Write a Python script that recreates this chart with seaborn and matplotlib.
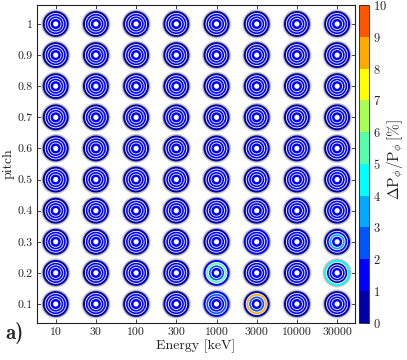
import numpy as np
import pandas as pd
import matplotlib
matplotlib.use("Agg")
import matplotlib.pyplot as plt
import matplotlib.colors as mcolors
import matplotlib.colorbar as mcolorbar
import seaborn as sns

sns.set_theme(style="ticks")
plt.rcParams['font.family'] = ['cmr10', 'DejaVu Serif']
plt.rcParams['mathtext.fontset'] = 'cm'
plt.rcParams['axes.formatter.use_mathtext'] = True
plt.rcParams['axes.unicode_minus'] = False

energies = ["10", "30", "100", "300", "1000", "3000", "10000", "30000"]
pitches = [1.0, 0.9, 0.8, 0.7, 0.6, 0.5, 0.4, 0.3, 0.2, 0.1]
pitch_labels = ["1", "0.9", "0.8", "0.7", "0.6", "0.5", "0.4", "0.3", "0.2", "0.1"]

# rows: pitch 1.0 .. 0.1 ; columns: energies 10 .. 30000
ring_outer = [
    [0.5, 0.5, 0.5, 0.5, 0.5, 0.5, 0.5, 0.5],
    [0.5, 0.5, 0.5, 0.5, 0.5, 0.5, 0.5, 0.5],
    [0.5, 0.5, 0.5, 0.5, 0.5, 0.5, 0.5, 0.5],
    [0.5, 0.5, 0.5, 0.5, 0.5, 0.5, 0.5, 0.5],
    [0.5, 0.5, 0.5, 0.5, 0.5, 0.5, 0.5, 0.5],
    [0.5, 0.5, 0.5, 0.5, 0.5, 0.5, 0.5, 0.5],
    [0.5, 0.5, 0.5, 0.5, 0.5, 0.5, 0.5, 0.5],
    [0.5, 0.5, 0.5, 0.5, 0.5, 1.5, 0.5, 0.5],
    [0.5, 0.5, 0.5, 0.5, 1.5, 0.5, 0.5, 4.5],
    [0.5, 0.5, 0.5, 0.5, 1.5, 0.5, 0.5, 0.5],
]
ring_second = [
    [1.5, 1.5, 1.5, 1.5, 1.5, 1.5, 1.5, 1.5],
    [1.5, 1.5, 1.5, 1.5, 1.5, 1.5, 1.5, 1.5],
    [1.5, 1.5, 1.5, 1.5, 1.5, 1.5, 1.5, 1.5],
    [1.5, 1.5, 1.5, 1.5, 1.5, 1.5, 1.5, 1.5],
    [1.5, 1.5, 1.5, 1.5, 1.5, 1.5, 1.5, 1.5],
    [1.5, 1.5, 1.5, 1.5, 1.5, 1.5, 1.5, 1.5],
    [1.5, 1.5, 1.5, 1.5, 1.5, 1.5, 1.5, 1.5],
    [1.5, 1.5, 1.5, 1.5, 1.5, 1.5, 1.5, 1.5],
    [1.5, 1.5, 1.5, 1.5, 5.5, 1.5, 1.5, 0.5],
    [1.5, 1.5, 1.5, 1.5, 2.5, 8.5, 1.5, 1.5],
]
ring_third = [
    [1.5, 1.5, 1.5, 1.5, 1.5, 1.5, 1.5, 1.5],
    [1.5, 1.5, 1.5, 1.5, 1.5, 1.5, 1.5, 1.5],
    [1.5, 1.5, 1.5, 1.5, 1.5, 1.5, 1.5, 1.5],
    [1.5, 1.5, 1.5, 1.5, 1.5, 1.5, 1.5, 1.5],
    [1.5, 1.5, 1.5, 1.5, 1.5, 1.5, 1.5, 1.5],
    [1.5, 1.5, 1.5, 1.5, 1.5, 1.5, 1.5, 1.5],
    [1.5, 1.5, 1.5, 1.5, 1.5, 1.5, 1.5, 1.5],
    [1.5, 1.5, 1.5, 1.5, 1.5, 1.5, 1.5, 3.5],
    [1.5, 1.5, 1.5, 1.5, 2.5, 1.5, 1.5, 1.5],
    [1.5, 1.5, 1.5, 1.5, 1.5, 2.5, 1.5, 1.5],
]
ring_inner = [
    [1.5, 1.5, 1.5, 1.5, 1.5, 1.5, 1.5, 1.5],
    [1.5, 1.5, 1.5, 1.5, 1.5, 1.5, 1.5, 1.5],
    [1.5, 1.5, 1.5, 1.5, 1.5, 1.5, 1.5, 1.5],
    [1.5, 1.5, 1.5, 1.5, 1.5, 1.5, 1.5, 1.5],
    [1.5, 1.5, 1.5, 1.5, 1.5, 1.5, 1.5, 1.5],
    [1.5, 1.5, 1.5, 1.5, 1.5, 1.5, 1.5, 1.5],
    [1.5, 1.5, 1.5, 1.5, 1.5, 1.5, 1.5, 1.5],
    [1.5, 1.5, 1.5, 1.5, 1.5, 1.5, 1.5, 1.5],
    [1.5, 1.5, 1.5, 1.5, 1.5, 1.5, 1.5, 1.5],
    [1.5, 1.5, 1.5, 1.5, 1.5, 1.5, 1.5, 1.5],
]
cbar_ticks = [0, 1, 2, 3, 4, 5, 6, 7, 8, 9, 10]

jet10 = [(0, 0, 0.6667), (0, 0, 1), (0, 0.3333, 1), (0, 0.6667, 1), (0, 1, 1),
         (0.3333, 1, 0.6667), (0.6667, 1, 0.3333), (1, 1, 0), (1, 0.6667, 0), (1, 0.3333, 0)]
cmap = mcolors.ListedColormap(jet10)
norm = mcolors.Normalize(vmin=0, vmax=10)

rows = []
for i, p in enumerate(pitches):
    for j, e in enumerate(energies):
        rows.append(dict(xi=j, pitch=p, r0=ring_outer[i][j], r1=ring_second[i][j],
                         r2=ring_third[i][j], r3=ring_inner[i][j]))
df = pd.DataFrame(rows)

dpi = 100
fig = plt.figure(figsize=(4.07, 3.60), dpi=dpi)
W, H = 407, 360
ax_l, ax_r, ax_t, ax_b = 37, 355, 5, 323
ax = fig.add_axes([ax_l / W, 1 - ax_b / H, (ax_r - ax_l) / W, (ax_b - ax_t) / H])


def s_of(r_px):
    d_pt = 2 * r_px * 72.0 / dpi
    return d_pt ** 2

# gray shell
sns.scatterplot(data=df, x="xi", y="pitch", s=s_of(14.7), color="#d8d8d8", edgecolor="none",
                linewidth=0, legend=False, ax=ax, zorder=2)
sns.scatterplot(data=df, x="xi", y="pitch", s=s_of(13.7), color="#b0b0b0", edgecolor="none",
                linewidth=0, legend=False, ax=ax, zorder=2)
layers = [("r0", 12.9, "none", 0), ("r1", 10.5, "white", 0.6),
          ("r2", 8.0, "white", 0.6), ("r3", 5.5, "white", 0.6)]
for k, (col, r, ec, lw) in enumerate(layers):
    sns.scatterplot(data=df, x="xi", y="pitch", hue=col, palette=cmap, hue_norm=norm,
                    s=s_of(r), edgecolor=ec, linewidth=lw, legend=False, ax=ax, zorder=3 + k)
sns.scatterplot(data=df, x="xi", y="pitch", s=s_of(2.6), color="white", edgecolor="none",
                linewidth=0, legend=False, ax=ax, zorder=8)

ax.set_xlim(-0.465, 7.445)
ax.set_ylim(0.039, 1.061)
ax.set_xticks(range(len(energies)))
ax.set_xticklabels(energies)
ax.set_yticks(pitches)
ax.set_yticklabels(pitch_labels)
ax.tick_params(direction="in", top=True, right=True, length=3, width=0.6, labelsize=8.5,
               pad=3, colors="#222222", labelcolor="#222222")
for sp in ax.spines.values():
    sp.set_linewidth(0.8)
    sp.set_color("#222222")
ax.set_xlabel("Energy [keV]", fontsize=10, labelpad=2, color="#222222")
ax.set_ylabel("pitch", fontsize=10, labelpad=2, color="#222222")

cax = fig.add_axes([359 / W, 1 - 322.7 / H, 10 / W, (322.7 - 5) / H])
cmap_b = mcolors.ListedColormap(jet10)
bnorm = mcolors.BoundaryNorm(cbar_ticks, cmap_b.N)
cb = mcolorbar.ColorbarBase(cax, cmap=cmap_b, norm=bnorm, ticks=cbar_ticks, orientation="vertical")
cb.outline.set_linewidth(0.6)
cax.tick_params(direction="in", length=3, width=0.5, labelsize=9, pad=3, colors="#222222")
fig.text(396 / W, 1 - 160 / H, r"$\Delta \mathrm{P}_\phi/\mathrm{P}_\phi\,[\%]$", fontsize=11,
         rotation=90, ha="center", va="center", color="#222222")

fig.text(5 / W, 1 - 333 / H, "a)", fontsize=15, fontweight="bold", family=["cmb10", "DejaVu Serif"],
         va="center", ha="left")

fig.savefig("out.png", dpi=dpi)
